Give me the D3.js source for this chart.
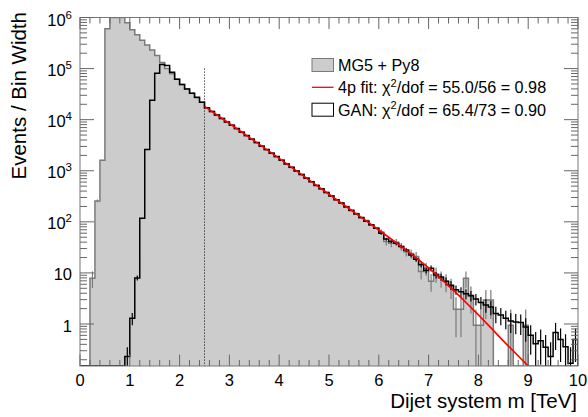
<!DOCTYPE html>
<html><head><meta charset="utf-8">
<script src="https://cdn.jsdelivr.net/npm/d3@7"></script>
<style>body{margin:0;background:#fff} text{font-family:"Liberation Sans",Arial,Helvetica,sans-serif;fill:#000}</style>
</head><body><svg id="c" width="588" height="417"></svg>
<script>
// ---- data ----
// bin lower edges 0.0 .. 9.9 TeV, width 0.1 TeV
const binEdges = d3.range(101).map(i => i / 10);
// MG5 + Py8 (events / bin width)
const mg5Values = [
  0, 0, 7.9, 257, 1600, 6.0e5, 1.8e6, 2.0e6, 1.4e6, 7.9e5,
  5.75e5, 4.6e5, 3.6e5, 2.9e5, 2.3e5, 1.8e5, 1.32e5, 1.0e5, 7.9e4, 6.2e4,
  4.9e4, 4.0e4, 3.3e4, 2.7e4, 2.2e4, 1.7e4, 1.45e4, 1.23e4, 1.06e4, 9.1e3,
  7.8e3, 6.65e3, 5.7e3, 4.85e3, 4.17e3, 3.55e3, 3.05e3, 2.58e3, 2.22e3, 1.88e3,
  1600, 1370, 1160, 990, 840, 718, 608, 520, 440, 377,
  320, 272, 232, 200, 165, 145, 119, 106, 86, 76,
  63, 41, 38, 40, 33, 26, 24, 21, 10.7, 12.3,
  6.9, 9.5, 7.9, 6.8, 5.4, 1.95, 1.95, 7.9, 3.5, 0.95,
  0.95, 2.95, 2.95, 0, 0, 0, 0.95, 0, 0, 0.95,
  0, 0, 0, 0, 0, 0, 0, 0, 0, 0
];
const mg5Errors = [
  0, 0, 2.8, 16, 40, 0, 0, 0, 0, 0,
  0, 0, 0, 0, 0, 0, 0, 0, 0, 0,
  0, 0, 0, 0, 0, 0, 0, 0, 0, 0,
  0, 0, 0, 0, 0, 0, 0, 0, 0, 0,
  0, 0, 0, 0, 0, 0, 0, 0, 0, 0,
  0, 0, 0, 0, 0, 0, 0, 0, 0, 0,
  7.9, 6.4, 6.2, 6.3, 5.7, 5.1, 4.9, 4.6, 3.3, 3.5,
  2.6, 3.1, 2.8, 2.6, 2.3, 1.4, 1.4, 2.8, 1.9, 0.97,
  0.97, 1.7, 1.7, 0, 0, 0, 0.97, 0, 0, 0.97,
  0, 0, 0, 0, 0, 0, 0, 0, 0, 0
];
// GAN
const ganValues = [
  0, 0, 0, 0, 0, 0, 0, 0, 0, 0.23,
  1.3, 8, 118, 2600, 2.4e4, 8.1e4, 1.2e5, 1.15e5, 8.5e4, 6.2e4,
  4.9e4, 4.0e4, 3.3e4, 2.75e4, 2.2e4, 1.72e4, 1.44e4, 1.24e4, 1.05e4, 9.0e3,
  7.8e3, 6.7e3, 5.65e3, 4.9e3, 4.15e3, 3.58e3, 3.02e3, 2.6e3, 2.2e3, 1.9e3,
  1600, 1360, 1170, 985, 845, 715, 612, 517, 443, 375,
  322, 271, 233, 196, 168, 142, 121, 103, 88, 75,
  60, 46, 41, 38, 33, 28, 22.4, 18.6, 14.5, 11.2,
  12.3, 9.1, 8.3, 6.9, 5.75, 4.7, 4.3, 3.9, 3.6, 3.1,
  2.65, 2.35, 2.15, 1.6, 1.5, 1.3, 1.15, 1.1, 1.07, 0.87,
  0.6, 0.41, 0.47, 0.35, 0.23, 0.68, 0.5, 0.36, 0.17, 0.5
];
const ganErrors = [
  0, 0, 0, 0, 0, 0, 0, 0, 0, 0.12,
  0.35, 0.9, 0, 0, 0, 0, 0, 0, 0, 0,
  0, 0, 0, 0, 0, 0, 0, 0, 0, 0,
  0, 0, 0, 0, 0, 0, 0, 0, 0, 0,
  0, 0, 0, 0, 0, 0, 0, 0, 0, 0,
  0, 0, 0, 0, 0, 0, 0, 0, 0, 0,
  3.5, 3.0, 2.9, 2.8, 2.6, 2.4, 2.1, 1.9, 1.7, 1.5,
  1.6, 1.35, 1.3, 1.2, 1.1, 0.97, 0.93, 0.88, 0.85, 0.79,
  0.73, 0.69, 0.66, 0.57, 0.55, 0.51, 0.48, 0.47, 0.46, 0.42,
  0.35, 0.29, 0.31, 0.26, 0.21, 0.37, 0.32, 0.27, 0.18, 0.32
];
// 4-parameter fit
const fitMass  = [2.5, 3.0, 3.5, 4.0, 4.5, 5.0, 5.5, 6.0, 6.5, 7.0, 7.5, 8.0, 8.5, 9.0];
const fitValue = [18200, 8410, 3850, 1740, 776, 347, 155, 69.2, 30.2, 12.6, 4.57, 1.51, 0.468, 0.135];
const fitStart = 2.5;
const dottedTop = 1e5;
const xTicks = [0,1,2,3,4,5,6,7,8,9,10];
const yMajor = [1, 10, 100, 1e3, 1e4, 1e5, 1e6];
const yLabels = [["1",""],["10",""],["10","2"],["10","3"],["10","4"],["10","5"],["10","6"]];
const legendItems = ["MG5 + Py8", "4p fit: ", "GAN: "];

// ---- layout ----
const L = 80, R = 578, T = 17.5, B = 366;
const svg = d3.select("#c");
const x = d3.scaleLinear([0, 10], [L, R]);
const y = d3.scaleLog([0.1507, 1e6], [B, T]).clamp(true);
const yy = v => v > 0 ? y(v) : B;

svg.append("defs").append("clipPath").attr("id","pc")
  .append("rect").attr("x",L).attr("y",T).attr("width",R-L).attr("height",B-T);
const g = svg.append("g").attr("clip-path","url(#pc)");

function histPath(vals) {
  let p = `M${x(binEdges[0])},${B}`;
  vals.forEach((v,i) => {
    const h = yy(v);
    p += `L${x(binEdges[i])},${h}L${x(binEdges[i+1])},${h}`;
  });
  p += `L${x(binEdges[binEdges.length-1])},${B}`;
  return p;
}
// MG5 filled histogram
g.append("path").attr("d", histPath(mg5Values) + "Z").attr("fill","#cccccc").attr("stroke","none");
g.append("path").attr("d", histPath(mg5Values)).attr("fill","none").attr("stroke","#7a7a7a").attr("stroke-width",1.5);
function errBars(vals, errs, color, w) {
  vals.forEach((v,i) => {
    const e = errs[i];
    if (!(e > 0)) return;
    const cx = x((binEdges[i] + binEdges[i+1]) / 2);
    g.append("line").attr("x1",cx).attr("x2",cx)
      .attr("y1", yy(v - e)).attr("y2", yy(v + e))
      .attr("stroke",color).attr("stroke-width",w);
  });
}
errBars(mg5Values, mg5Errors, "#7a7a7a", 1.2);
// GAN histogram
g.append("path").attr("d", histPath(ganValues)).attr("fill","none").attr("stroke","#000").attr("stroke-width",1.5);
errBars(ganValues, ganErrors, "#000", 1.2);
// fit
g.append("path").datum(fitMass.map((m,i)=>[m, fitValue[i]]))
  .attr("d", d3.line().x(d=>x(d[0])).y(d=>y(d[1])).curve(d3.curveMonotoneX))
  .attr("fill","none").attr("stroke","#ff0000").attr("stroke-width",1.6);
// dotted fit start line
svg.append("line").attr("x1",x(fitStart)).attr("x2",x(fitStart)).attr("y1",y(dottedTop)).attr("y2",B)
  .attr("stroke","#000").attr("stroke-width",1).attr("stroke-dasharray","1,2");

// ---- frame & ticks ----
const tickCol = "#666";
svg.append("rect").attr("x",L).attr("y",T).attr("width",R-L).attr("height",B-T)
  .attr("fill","none").attr("stroke","#777").attr("stroke-width",1);
const ax = svg.append("g").attr("stroke",tickCol).attr("stroke-width",1);
// x ticks
d3.range(0, 51).forEach(i => {
  const v = i / 5, major = i % 5 === 0, len = major ? 11.5 : 6;
  const px = x(v);
  ax.append("line").attr("x1",px).attr("x2",px).attr("y1",B).attr("y2",B-len);
  ax.append("line").attr("x1",px).attr("x2",px).attr("y1",T).attr("y2",T+len);
});
// y ticks
const yd = y.domain();
for (let e = -1; e <= 5; e++) {
  for (let k = 1; k <= 9; k++) {
    const v = k * Math.pow(10, e);
    if (v < yd[0] || v > yd[1]) continue;
    const major = k === 1, len = major ? 14 : 7, py = y(v);
    ax.append("line").attr("x1",L).attr("x2",L+len).attr("y1",py).attr("y2",py);
    ax.append("line").attr("x1",R).attr("x2",R-len).attr("y1",py).attr("y2",py);
  }
}
ax.append("line").attr("x1",L).attr("x2",L+14).attr("y1",y(1e6)).attr("y2",y(1e6));
// x labels
xTicks.forEach(t => {
  svg.append("text").attr("x",x(t)).attr("y",385.5).attr("text-anchor","middle")
    .attr("font-size",16.5).text(t);
});
// y labels
yMajor.forEach((v,i) => {
  const t = svg.append("text").attr("x",72).attr("y",Math.max(y(v)+7.5, 26))
    .attr("text-anchor","end").attr("font-size",16.5);
  t.append("tspan").text(yLabels[i][0]);
  if (yLabels[i][1]) t.append("tspan").attr("font-size",11.5).attr("dy",-7.5).text(yLabels[i][1]);
});
// axis titles
svg.append("text").attr("x",577).attr("y",408).attr("text-anchor","end").attr("font-size",20.5)
  .text("Dijet system m [TeV]");
svg.append("text").attr("transform","translate(26,12) rotate(-90)").attr("text-anchor","end")
  .attr("font-size",20.5).text("Events / Bin Width");

// ---- legend ----
const lg = svg.append("g");
const rows = [65, 87.3, 109.7];
lg.append("rect").attr("x",312).attr("y",rows[0]-6.5).attr("width",21.5).attr("height",13)
  .attr("fill","#cccccc").attr("stroke","#7a7a7a").attr("stroke-width",1);
lg.append("line").attr("x1",312).attr("x2",333.5).attr("y1",rows[1]).attr("y2",rows[1])
  .attr("stroke","#ff0000").attr("stroke-width",1.3);
lg.append("rect").attr("x",312).attr("y",rows[2]-6.5).attr("width",21.5).attr("height",13)
  .attr("fill","#fff").attr("stroke","#000").attr("stroke-width",1);
const fs = 16.2;
lg.append("text").attr("x",338).attr("y",rows[0]+5.8).attr("font-size",fs).text(legendItems[0]);
function chiText(row, pre, rest) {
  const t = lg.append("text").attr("x",338).attr("y",row+5.8).attr("font-size",fs);
  t.append("tspan").text(pre + "\u03c7");
  t.append("tspan").attr("font-size",11).attr("dy",-6.5).text("2");
  t.append("tspan").attr("dy",6.5).text(rest);
}
chiText(rows[1], legendItems[1], "/dof = 55.0/56 = 0.98");
chiText(rows[2], legendItems[2], "/dof = 65.4/73 = 0.90");
</script></body></html>
